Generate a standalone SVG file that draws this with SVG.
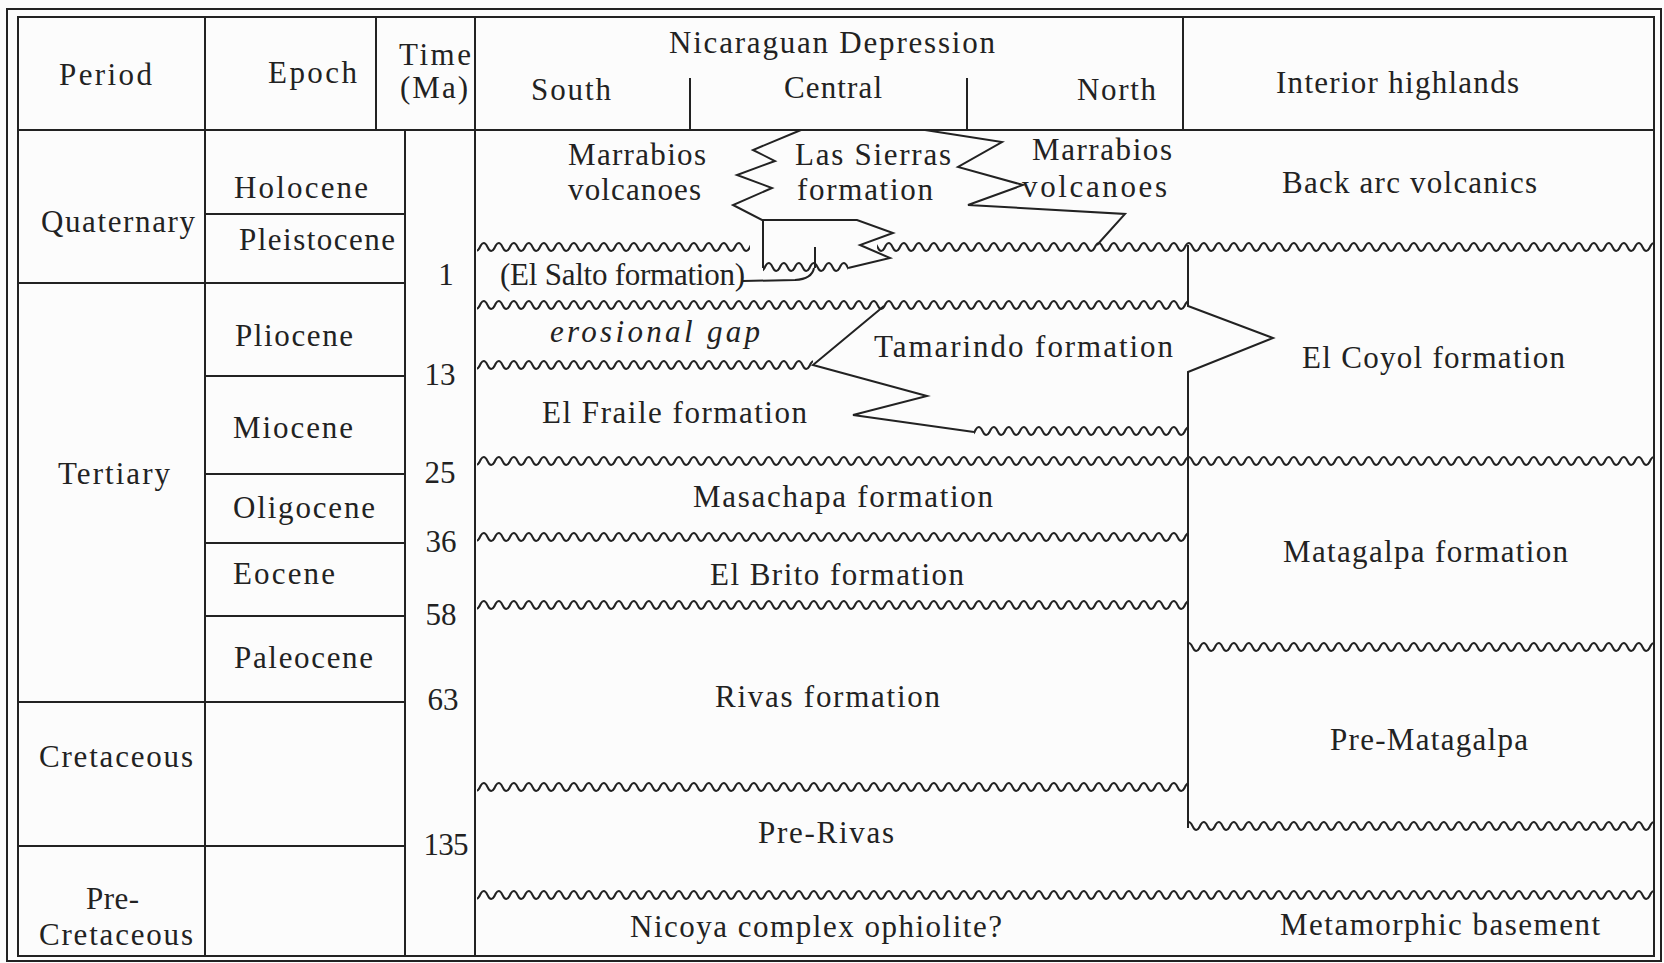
<svg xmlns="http://www.w3.org/2000/svg" width="1664" height="963" viewBox="0 0 1664 963">
<style>
text{font-family:"Liberation Serif","Times New Roman",serif;font-size:31px;fill:#222}
.it{font-style:italic}
.ln{fill:none;stroke:#222;stroke-width:2}
.tn{fill:none;stroke:#222;stroke-width:2}
.mid{text-anchor:middle}
</style>
<defs>
<pattern id="wave" x="0" y="-7" width="15" height="14" patternUnits="userSpaceOnUse">
<path d="M-7.5 7 Q-3.75 15 0 7 T7.5 7 T15 7 T22.5 7" fill="none" stroke="#222" stroke-width="2"/>
</pattern>
</defs>
<rect x="0" y="0" width="1664" height="963" fill="#fcfcfc"/>
<g id="frame">
<rect x="7" y="9" width="1654" height="952" class="ln" stroke-width="2.5"/>
<rect x="18" y="17" width="1636" height="939" class="ln"/>
</g>
<g id="grid" class="ln">
<line x1="18" y1="130" x2="1654" y2="130"/>
<line x1="205" y1="17" x2="205" y2="956"/>
<line x1="376" y1="17" x2="376" y2="130"/>
<line x1="405" y1="130" x2="405" y2="956"/>
<line x1="475" y1="17" x2="475" y2="956"/>
<line x1="1183" y1="17" x2="1183" y2="130"/>
<line x1="690" y1="78" x2="690" y2="130"/>
<line x1="967" y1="78" x2="967" y2="130"/>
<line x1="205" y1="214" x2="405" y2="214"/>
<line x1="18" y1="283" x2="405" y2="283"/>
<line x1="205" y1="376" x2="405" y2="376"/>
<line x1="205" y1="474" x2="405" y2="474"/>
<line x1="205" y1="543" x2="405" y2="543"/>
<line x1="205" y1="616" x2="405" y2="616"/>
<line x1="18" y1="702" x2="405" y2="702"/>
<line x1="18" y1="846" x2="405" y2="846"/>
</g>
<g id="header">
<text x="59" y="85" textLength="93">Period</text>
<text x="268" y="83" textLength="89">Epoch</text>
<text x="399" y="65" textLength="72">Time</text>
<text x="400" y="98" textLength="68">(Ma)</text>
<text x="669" y="53" textLength="326">Nicaraguan Depression</text>
<text x="531" y="100" textLength="80">South</text>
<text x="784" y="98" textLength="98">Central</text>
<text x="1077" y="100" textLength="79">North</text>
<text x="1276" y="93" textLength="243">Interior highlands</text>
</g>
<g id="periods">
<g id="p-quaternary"><text x="41" y="232" textLength="154">Quaternary</text></g>
<g id="p-tertiary"><text x="58" y="484" textLength="112">Tertiary</text></g>
<g id="p-cretaceous"><text x="39" y="767" textLength="154">Cretaceous</text></g>
<g id="p-precretaceous"><text x="86" y="909" textLength="53">Pre-</text><text x="39" y="945" textLength="154">Cretaceous</text></g>
</g>
<g id="epochs">
<g id="e-holocene"><text x="234" y="198" textLength="134">Holocene</text></g>
<g id="e-pleistocene"><text x="239" y="250" textLength="156">Pleistocene</text></g>
<g id="e-pliocene"><text x="235" y="346" textLength="118">Pliocene</text></g>
<g id="e-miocene"><text x="233" y="438" textLength="120">Miocene</text></g>
<g id="e-oligocene"><text x="233" y="518" textLength="142">Oligocene</text></g>
<g id="e-eocene"><text x="233" y="584" textLength="102">Eocene</text></g>
<g id="e-paleocene"><text x="234" y="668" textLength="139">Paleocene</text></g>
</g>
<g id="times">
<text x="446" y="285" class="mid">1</text>
<text x="440" y="385" class="mid" textLength="31">13</text>
<text x="440" y="483" class="mid" textLength="31">25</text>
<text x="441" y="552" class="mid" textLength="31">36</text>
<text x="441" y="625" class="mid" textLength="31">58</text>
<text x="443" y="710" class="mid" textLength="31">63</text>
<text x="446" y="855" class="mid" textLength="45">135</text>
</g>
<g id="depression">
<g id="marrabios-south"><text x="568" y="165" textLength="138">Marrabios</text><text x="568" y="200" textLength="133">volcanoes</text></g>
<g id="las-sierras"><text x="795" y="165" textLength="156">Las Sierras</text><text x="797" y="200" textLength="136">formation</text></g>
<g id="marrabios-north"><text x="1032" y="160" textLength="140">Marrabios</text><text x="1022" y="197" textLength="145">volcanoes</text></g>
<g id="el-salto"><text x="500" y="285" textLength="245">(El Salto formation)</text></g>
<g id="erosional-gap"><text x="550" y="342" class="it" textLength="210">erosional gap</text></g>
<g id="tamarindo"><text x="874" y="357" textLength="299">Tamarindo formation</text></g>
<g id="el-fraile"><text x="542" y="423" textLength="265">El Fraile formation</text></g>
<g id="masachapa"><text x="693" y="507" textLength="300">Masachapa formation</text></g>
<g id="el-brito"><text x="710" y="585" textLength="254">El Brito formation</text></g>
<g id="rivas"><text x="715" y="707" textLength="225">Rivas formation</text></g>
<g id="pre-rivas"><text x="758" y="843" textLength="136">Pre-Rivas</text></g>
<g id="nicoya"><text x="630" y="937" textLength="372">Nicoya complex ophiolite?</text></g>
</g>
<g id="highlands">
<g id="back-arc"><text x="1282" y="193" textLength="255">Back arc volcanics</text></g>
<g id="el-coyol"><text x="1302" y="368" textLength="263">El Coyol formation</text></g>
<g id="matagalpa"><text x="1283" y="562" textLength="285">Matagalpa formation</text></g>
<g id="pre-matagalpa"><text x="1330" y="750" textLength="198">Pre-Matagalpa</text></g>
<g id="metamorphic"><text x="1280" y="935" textLength="320">Metamorphic basement</text></g>
</g>
<g id="connectors">
<g id="unconformities" fill="url(#wave)">
<rect x="477" y="-7" width="273" height="14" transform="translate(0,247)"/>
<rect x="877" y="-7" width="777" height="14" transform="translate(0,247)"/>
<rect x="763" y="-7" width="85" height="14" transform="translate(0,267)"/>
<rect x="477" y="-7" width="711" height="14" transform="translate(0,305)"/>
<rect x="477" y="-7" width="336" height="14" transform="translate(0,365)"/>
<rect x="974" y="-7" width="214" height="14" transform="translate(0,431)"/>
<rect x="477" y="-7" width="1177" height="14" transform="translate(0,461)"/>
<rect x="477" y="-7" width="711" height="14" transform="translate(0,537)"/>
<rect x="477" y="-7" width="711" height="14" transform="translate(0,605)"/>
<rect x="1188" y="-7" width="466" height="14" transform="translate(0,647)"/>
<rect x="477" y="-7" width="711" height="14" transform="translate(0,787)"/>
<rect x="1188" y="-7" width="466" height="14" transform="translate(0,826)"/>
<rect x="477" y="-7" width="1177" height="14" transform="translate(0,895)"/>
</g>
<g id="contacts" class="tn">
<polyline points="801,130 753,150 775,161 737,175 772,188 733,205 762,220 857,220 893,233 860,245 890,258 848,268"/>
<line x1="763" y1="220" x2="763" y2="268"/>
<line x1="815" y1="247" x2="815" y2="268"/>
<path d="M743 281 L795 280 Q812 279 814 268"/>
<polyline points="925,130 1002,142 958,167 1023,185 968,205 1125,214 1097,245"/>
<polyline points="884,306 813,365 927,396 853,415 974,432"/>
<polyline points="1188,245 1188,306 1273,338 1188,372 1188,828"/>
</g>
</g>
</svg>
